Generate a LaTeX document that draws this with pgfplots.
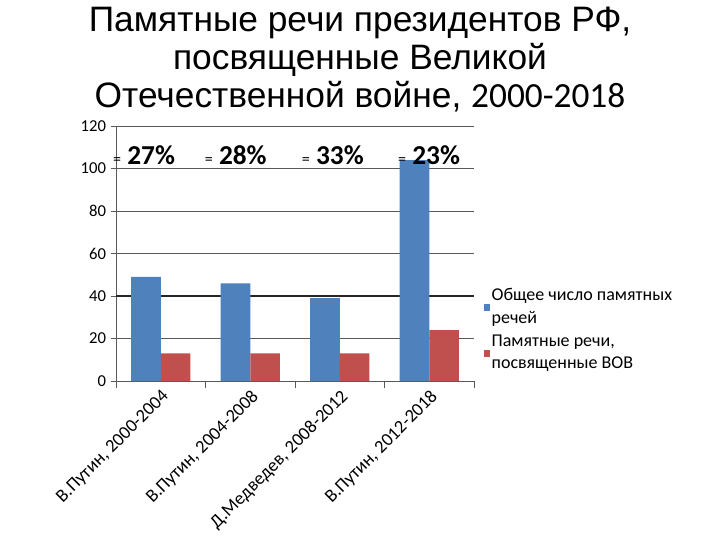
\documentclass[border=0pt]{standalone}
\usepackage{pgfplots}
\pgfplotsset{compat=1.18}
\usepackage{fontspec}
\setmainfont{Carlito}
\newfontfamily\arial{Liberation Sans}
\definecolor{ofblue}{HTML}{4F81BD}
\definecolor{ofred}{HTML}{C0504D}
\begin{document}
\begin{tikzpicture}
\path[use as bounding box] (0,0) rectangle (540pt,-405pt);
\node[anchor=north, align=center, font={\arial\fontsize{26.5}{28.6}\selectfont}, inner sep=0pt] at (270pt,-5pt)
  {Памятные речи президентов РФ,\\посвященные Великой\\Отечественной войне, {\rmfamily 2000-2018}};
\begin{axis}[
  at={(87pt,-285.75pt)}, anchor=south west,
  scale only axis, width=268.5pt, height=191.25pt,
  xmin=-0.5, xmax=3.5, ymin=0, ymax=120,
  axis x line=bottom, axis y line=left,
  axis line style={-, gray!70!black},
  ytick={0,20,...,120},
  xtick={0,1,2,3},
  xticklabels={{В.Путин, 2000-2004}, {В.Путин, 2004-2008}, {Д.Медведев, 2008-2012}, {В.Путин, 2012-2018}},
  minor xtick={-0.5,0.5,1.5,2.5,3.5},
  x tick style={draw=none},
  minor x tick style={draw=gray!70!black, thin},
  minor tick length=5pt,
  tick align=outside,
  y tick style={gray!70!black},
  major tick length=4pt,
  ymajorgrids, grid style={gray!70!black, line width=0.6pt},
  extra y ticks={40}, extra y tick labels={},
  extra y tick style={grid style={black!85, line width=1.3pt}},
  x tick label style={rotate=45, anchor=north east, font=\fontsize{13.8}{15}\selectfont, inner sep=1pt},
  y tick label style={font=\fontsize{12.5}{14}\selectfont},
  /pgf/number format/assume math mode=true,
  ybar=0pt, bar width=0.33,
  clip=false,
  legend style={at={(1.015,0.38)}, anchor=north west, draw=none, fill=none,
    font=\fontsize{13.5}{17}\selectfont, row sep=5pt,
    nodes={align=left, inner sep=1pt}},
  legend cell align=left,
  legend image code/.code={\fill[#1] (0pt,-3pt) rectangle (5pt,2pt);},
]
\addplot[fill=ofblue, draw=none] coordinates {(0,49) (1,46) (2,39) (3,104)};
\addplot[fill=ofred, draw=none] coordinates {(0,13) (1,13) (2,13) (3,24)};
\legend{{Общее число памятных\\речей}, {Памятные речи,\\посвященные ВОВ}}
\node[anchor=west, inner sep=0pt] at (axis cs:-0.535,106.2) {{\fontsize{12}{12}\selectfont =}{\fontsize{20.5}{22}\selectfont\bfseries\ 27\%}};
\node[anchor=west, inner sep=0pt] at (axis cs:0.49,106.2) {{\fontsize{12}{12}\selectfont =}{\fontsize{20.5}{22}\selectfont\bfseries\ 28\%}};
\node[anchor=west, inner sep=0pt] at (axis cs:1.575,106.2) {{\fontsize{12}{12}\selectfont =}{\fontsize{20.5}{22}\selectfont\bfseries\ 33\%}};
\node[anchor=west, inner sep=0pt] at (axis cs:2.65,106.2) {{\fontsize{12}{12}\selectfont =}{\fontsize{20.5}{22}\selectfont\bfseries\ 23\%}};
\end{axis}
\end{tikzpicture}
\end{document}
